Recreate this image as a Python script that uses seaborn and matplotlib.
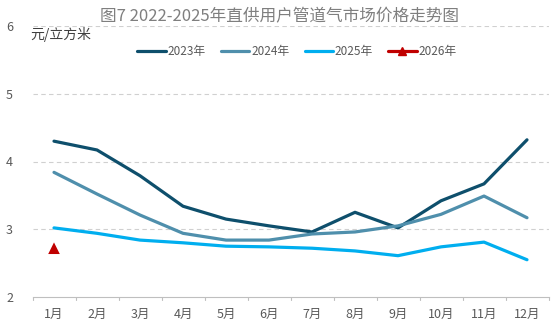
import matplotlib
matplotlib.use("Agg")
import matplotlib.pyplot as plt
import seaborn as sns
import pandas as pd
from matplotlib.lines import Line2D

months = ["1月", "2月", "3月", "4月", "5月", "6月", "7月", "8月", "9月", "10月", "11月", "12月"]
price_2023 = [4.30, 4.17, 3.79, 3.34, 3.15, 3.05, 2.96, 3.25, 3.02, 3.42, 3.67, 4.32]
price_2024 = [3.84, 3.52, 3.21, 2.94, 2.84, 2.84, 2.93, 2.96, 3.05, 3.22, 3.49, 3.17]
price_2025 = [3.02, 2.94, 2.84, 2.80, 2.75, 2.74, 2.72, 2.68, 2.61, 2.74, 2.81, 2.55]
months_2026 = ["1月"]
price_2026 = [2.72]

sns.set_theme(style="white")
plt.rcParams["font.family"] = ["Noto Sans CJK SC", "DejaVu Sans"]

rows = []
for name, vals in (("2023年", price_2023), ("2024年", price_2024), ("2025年", price_2025)):
    for m, v in zip(months, vals):
        rows.append({"月份": m, "价格": v, "年份": name})
df = pd.DataFrame(rows)
df["x"] = df["月份"].map({m: i for i, m in enumerate(months)})
df26 = pd.DataFrame({"x": [months.index(m) for m in months_2026], "价格": price_2026})

fig = plt.figure(figsize=(5.52, 3.30), dpi=100)
ax = fig.add_axes([32.5 / 552, 33 / 330, 516 / 552, 271 / 330])

palette = {"2023年": "#0e4f6c", "2024年": "#4f8fac", "2025年": "#00aeef"}
sns.lineplot(data=df, x="x", y="价格", hue="年份", palette=palette, linewidth=2.3,
             ax=ax, legend=False, sort=False)
sns.scatterplot(data=df26, x="x", y="价格", marker="^", s=70, color="#c00000",
                edgecolor="none", ax=ax, legend=False, zorder=5)

ax.set_xlim(-0.5, 11.5)
ax.set_ylim(2, 6)
ax.set_yticks([2, 3, 4, 5, 6])
ax.set_yticklabels(["2", "3", "4", "5", "6"], fontsize=9, color="#595959")
ax.set_xticks(range(12))
ax.set_xticklabels(months, fontsize=9, color="#595959")
ax.tick_params(axis="y", length=0, pad=14)
ax.tick_params(axis="x", length=0, pad=8)
for b in [i - 0.5 for i in range(13)]:
    ax.plot([b, b], [2, 2 - 0.04], color="#bfbfbf", lw=0.8, clip_on=False)
for yv in [3, 4, 5, 6]:
    ax.axhline(yv, color="#d0d0d0", lw=0.8, ls=(0, (4, 3)), zorder=0)
ax.set_xlabel("")
ax.set_ylabel("")
for s in ["top", "right", "left"]:
    ax.spines[s].set_visible(False)
ax.spines["bottom"].set_color("#bfbfbf")
ax.spines["bottom"].set_linewidth(0.8)

fig.text(279 / 552, 1 - 17 / 330, "图7 2022-2025年直供用户管道气市场价格走势图", ha="center",
         va="center", fontsize=12, color="#7f7f7f")
fig.text(30 / 552, 1 - 35 / 330, "元/立方米", ha="left", va="center", fontsize=10, color="#404040")

handles = [Line2D([], [], color=palette[k], lw=2.3) for k in palette]
handles.append(Line2D([], [], color="#c00000", lw=2.3, marker="^", markersize=6))
leg = ax.legend(handles, ["2023年", "2024年", "2025年", "2026年"], loc="center",
                ncol=4, frameon=False, fontsize=8.5, handlelength=2.4,
                handletextpad=0.15, columnspacing=1.3, labelcolor="#595959")
leg.set_bbox_to_anchor((297 / 552, 1 - 52 / 330), transform=fig.transFigure)

fig.savefig("out.png", dpi=100)
